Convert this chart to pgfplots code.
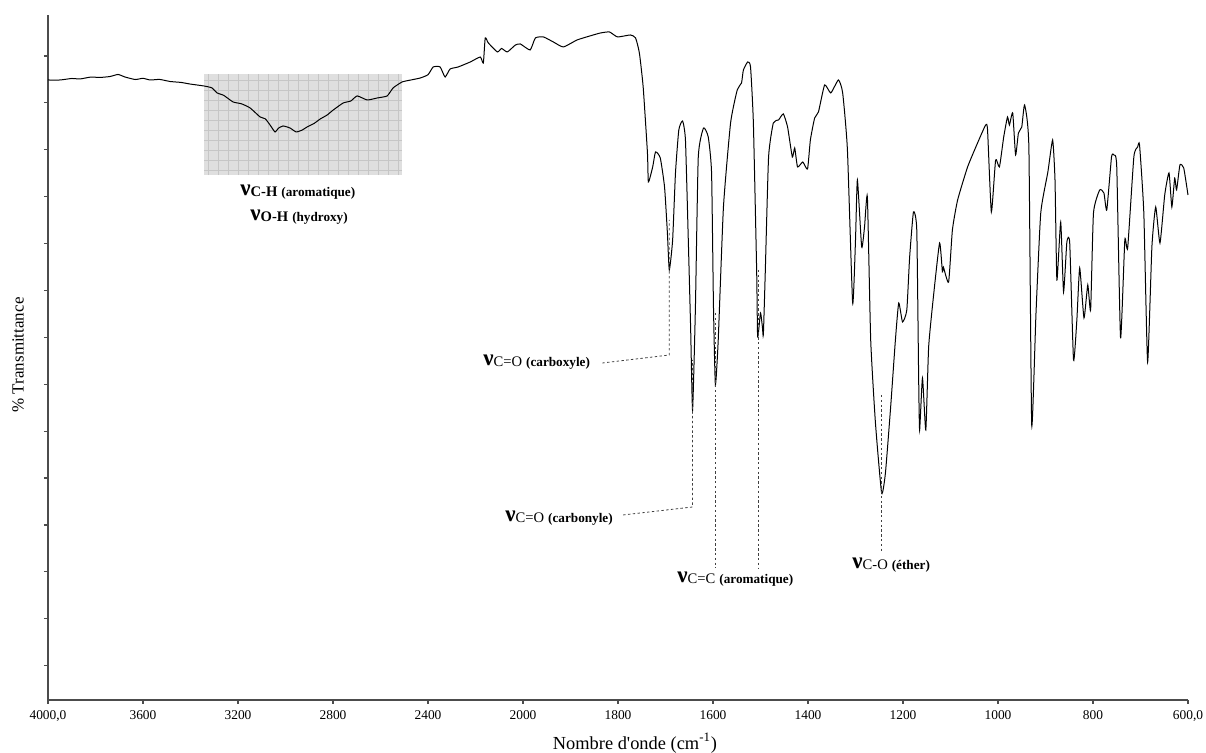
\documentclass[border=0pt]{standalone}
\usepackage{pgfplots}
\pgfplotsset{compat=1.18}
\usepackage{pgfplotstable}
\usepackage{fontspec}
\setmainfont{Liberation Serif}
\newcommand{\vib}[2]{{\fontsize{11.5}{12}\selectfont\bfseries\raisebox{0.8pt}{ν}}{\fontsize{7.3}{8}\selectfont #1}\hspace{2pt}{\fontsize{6.6}{8}\selectfont\bfseries #2}}

\pgfplotstableread{
wn T
4000 67.44
3949 67.44
3900 67.60
3865 67.55
3820 67.75
3781 67.71
3739 67.81
3705 68.03
3676 67.76
3633 67.49
3600 67.62
3570 67.44
3530 67.50
3486 67.28
3440 67.18
3402 67.01
3343 66.80
3310 66.60
3288 66.06
3260 65.80
3221 65.10
3185 64.90
3149 64.46
3107 63.50
3085 63.30
3065 62.64
3044 61.90
3030 62.30
3010 62.54
2981 62.32
2955 61.90
2930 62.10
2909 62.43
2880 62.80
2854 63.28
2825 63.70
2799 64.24
2757 64.99
2725 65.20
2698 65.74
2656 65.31
2614 65.52
2572 65.74
2547 66.59
2509 67.23
2470 67.45
2433 67.65
2400 68.00
2378 68.83
2349 68.83
2328 67.76
2307 68.61
2273 68.83
2222 69.36
2180 69.89
2167 69.25
2159 71.92
2146 71.39
2108 70.43
2090 70.80
2066 70.43
2032 71.17
2011 71.28
1985 70.64
1974 71.92
1957 72.03
1936 71.49
1915 70.96
1886 71.71
1852 72.24
1837 72.45
1818 72.56
1801 72.03
1774 72.24
1763 71.92
1755 70.32
1747 66.69
1738 59.66
1736 56.57
1727 58.17
1721 59.77
1711 59.13
1702 56.03
1696 51.13
1692 47.19
1685 50.38
1679 57.53
1672 62.11
1664 63.07
1658 61.04
1652 50.38
1647 40.79
1643 32.26
1637 43.24
1631 59.23
1620 62.32
1610 61.36
1603 57.53
1599 43.24
1595 34.93
1589 39.72
1578 53.90
1563 62.86
1549 66.38
1540 67.12
1536 68.51
1527 69.36
1521 68.83
1515 62.86
1508 46.86
1506 40.04
1500 42.60
1496 41.11
1494 40.26
1490 46.86
1483 59.23
1473 62.86
1462 63.18
1452 63.82
1443 62.43
1433 59.23
1428 60.19
1422 58.17
1411 58.70
1401 57.95
1395 61.04
1386 63.39
1378 64.03
1365 66.91
1352 66.06
1336 67.44
1327 66.06
1317 59.98
1306 43.67
1300 50.38
1296 56.78
1287 49.64
1281 51.77
1275 54.97
1268 39.72
1258 30.87
1245 23.41
1237 25.54
1226 32.58
1216 39.72
1209 43.67
1201 41.64
1192 42.92
1186 48.57
1178 53.37
1171 51.45
1167 35.46
1165 30.13
1159 35.67
1152 30.13
1146 38.98
1136 44.31
1123 50.06
1117 46.97
1115 47.50
1104 45.90
1096 51.45
1085 54.65
1064 58.17
1043 60.73
1026 62.64
1022 62.11
1014 53.37
1005 58.91
997 58.17
988 61.36
980 63.50
976 62.64
969 63.92
963 59.45
957 61.79
950 62.43
944 64.78
935 60.30
929 30.66
920 42.60
910 53.26
895 57.63
885 61.04
880 56.78
876 46.12
868 52.30
862 44.84
855 50.17
849 50.06
841 37.59
834 41.85
828 47.40
819 42.07
811 45.59
805 42.92
799 53.26
786 55.71
777 55.39
771 53.58
761 59.23
756 59.45
750 58.17
742 39.94
733 50.38
727 49.53
714 59.23
706 60.30
702 60.51
693 53.26
685 37.38
676 49.64
668 53.90
659 50.06
649 55.18
640 57.53
634 53.90
628 56.99
624 55.71
617 58.38
609 58.06
600 55.18
}\spec

\begin{document}
\begin{tikzpicture}
\path[use as bounding box] (-24pt,-26.5pt) rectangle (579pt,350pt);
\begin{axis}[
  scale only axis, width=570pt, height=342.5pt,
  at={(0pt,0pt)}, anchor=south west,
  x coord trafo/.code={\pgfmathparse{#1>=2000 ? (4000-#1)/400 : 5+(2000-#1)/200}},
  x coord inv trafo/.code={\pgfmathparse{#1<=5 ? 4000-400*#1 : 2000-200*(#1-5)}},
  xmin=4000, xmax=600,
  ymin=1.343, ymax=74.37,
  axis lines=left,
  axis line style={-, black!70, line width=0.7pt},
  xtick={4000,3600,3200,2800,2400,2000,1800,1600,1400,1200,1000,800,600},
  xticklabels={{4000,0},3600,3200,2800,2400,2000,1800,1600,1400,1200,1000,800,{600,0}},
  ytick={5,10,...,70}, yticklabels={},
  tick align=outside, major tick length=2pt,
  tick style={black!70, line width=0.6pt},
  xticklabel style={font=\fontsize{6.7}{8}\selectfont},
  /pgf/number format/assume math mode=true,
  clip=false,
]
\fill[gray!25] (axis cs:3343,68.08) rectangle (axis cs:2509,57.31);
\begin{scope}
\clip (axis cs:3343,68.08) rectangle (axis cs:2509,57.31);
\draw[gray!45, line width=0.3pt, step=5pt] (axis cs:3343,68.08) grid (axis cs:2509,57.31);
\end{scope}
\addplot[black, line width=0.5pt, mark=none, smooth, tension=0.3] table[x=wn, y=T] {\spec};
\draw[black!75, line width=0.4pt, dash pattern=on 1.2pt off 1.2pt] (axis cs:1833,37.27) -- (axis cs:1692,38.12) -- (axis cs:1692,52.52);
\draw[black!75, line width=0.4pt, dash pattern=on 1.2pt off 1.2pt] (axis cs:1789,21.07) -- (axis cs:1643,21.92) -- (axis cs:1643,37.59);
\draw[black!75, line width=0.4pt, dash pattern=on 1.2pt off 1.2pt] (axis cs:1595,42.60) -- (axis cs:1595,15.42);
\draw[black!75, line width=0.4pt, dash pattern=on 1.2pt off 1.2pt] (axis cs:1504,47.19) -- (axis cs:1504,15.42);
\draw[black!75, line width=0.4pt, dash pattern=on 1.2pt off 1.2pt] (axis cs:1245,33.86) -- (axis cs:1245,17.01);
\end{axis}
\node[anchor=base west, inner sep=0pt] at (96pt,251.5pt) {\vib{\bfseries C-H}{(aromatique)}};
\node[anchor=base west, inner sep=0pt] at (101pt,239pt) {\vib{\bfseries O-H}{(hydroxy)}};
\node[anchor=base west, inner sep=0pt] at (217.5pt,166.5pt) {\vib{C=O}{(carboxyle)}};
\node[anchor=base west, inner sep=0pt] at (228.5pt,88.5pt) {\vib{C=O}{(carbonyle)}};
\node[anchor=base west, inner sep=0pt] at (314.5pt,58pt) {\vib{C=C}{(aromatique)}};
\node[anchor=base west, inner sep=0pt] at (402pt,65pt) {\vib{C-O}{(éther)}};
\node[rotate=90, inner sep=0pt] at (-15pt,172.5pt) {\fontsize{8.5}{10}\selectfont \% Transmittance};
\node[inner sep=0pt] at (293.5pt,-21.5pt) {\fontsize{9.2}{11}\selectfont Nombre d\textquotesingle onde (cm\textsuperscript{-1})};
\end{tikzpicture}
\end{document}
